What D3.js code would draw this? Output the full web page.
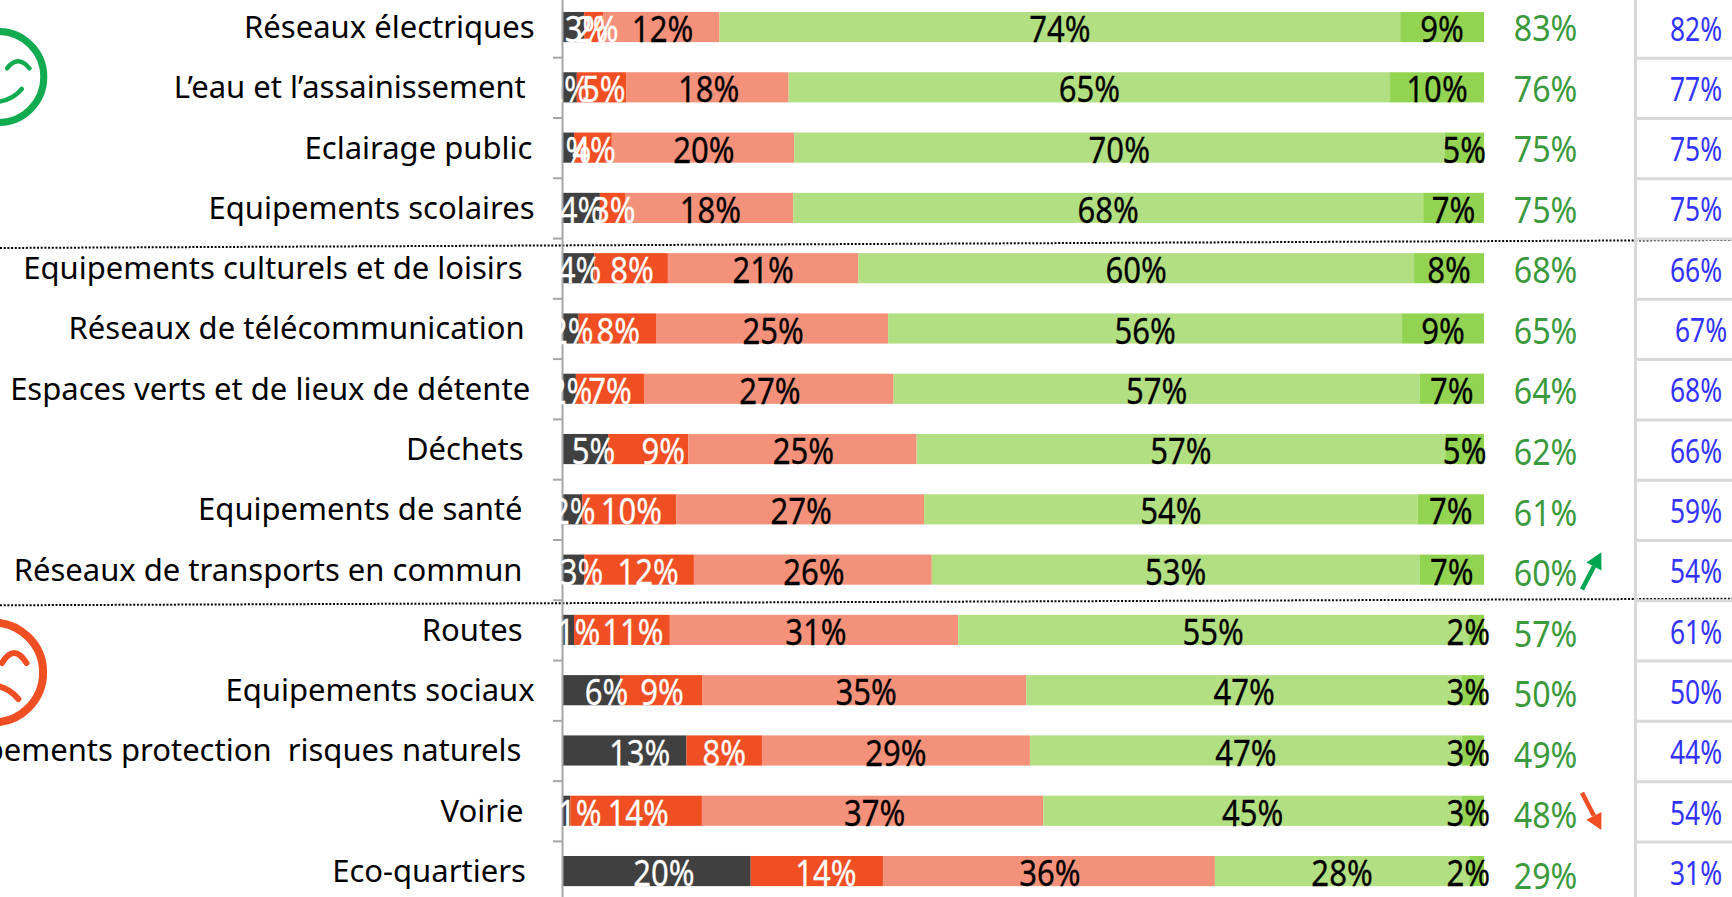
<!DOCTYPE html>
<html>

<head>
    <meta charset="utf-8">
    <title>Satisfaction équipements</title>
    <style>
        html, body {
            margin: 0;
            padding: 0;
            background: #fff;
            overflow: hidden;
        }

        svg {
            display: block;
            font-family: 'Noto Sans', 'Open Sans', sans-serif;
        }

        text {
            white-space: pre;
        }
    </style>
</head>

<body>
    <figure style="margin:0"></figure>

    <script src="https://d3js.org/d3.v7.min.js"></script>

    <script>
        ////////////////////////////////////
        ///////////// Data /////////////////
        ////////////////////////////////////

        const categories = [
            "Réseaux électriques",
            "L’eau et l’assainissement",
            "Eclairage public",
            "Equipements scolaires",
            "Equipements culturels et de loisirs",
            "Réseaux de télécommunication",
            "Espaces verts et de lieux de détente",
            "Déchets",
            "Equipements de santé",
            "Réseaux de transports en commun",
            "Routes",
            "Equipements sociaux",
            "Equipements protection  risques naturels",
            "Voirie",
            "Eco-quartiers"
        ]

        // segment widths (the printed labels are rounded differently)
        const nonConcerne = [2.3, 1.5, 1.2, 4.0, 3.4, 1.7, 1.4, 4.9, 2.1, 2.3, 1.2, 6.2, 13.4, 0.8, 20.3]
        const pasDuTout = [2.1, 5.4, 4.1, 2.8, 8.0, 8.4, 7.4, 8.7, 10.2, 11.9, 10.4, 8.9, 8.2, 14.3, 14.3]
        const plutotPas = [12.6, 17.6, 19.8, 18.2, 20.7, 25.2, 27.1, 24.8, 26.9, 25.8, 31.3, 35.2, 29.1, 37.1, 35.9]
        const plutot = [73.9, 65.3, 70.6, 68.4, 60.4, 55.8, 57.1, 57.4, 53.6, 52.9, 55.4, 47.3, 46.9, 45.5, 27.5]
        const tout = [9.1, 10.2, 4.3, 6.6, 7.6, 8.9, 7.0, 4.2, 7.2, 7.0, 1.7, 2.4, 2.4, 2.4, 1.6]

        // printed labels
        const labelNonConcerne = [3, 2, 1, 4, 4, 2, 2, 5, 2, 3, 1, 6, 13, 1, 20]
        const labelPasDuTout = [2, 5, 4, 3, 8, 8, 7, 9, 10, 12, 11, 9, 8, 14, 14]
        const labelPlutotPas = [12, 18, 20, 18, 21, 25, 27, 25, 27, 26, 31, 35, 29, 37, 36]
        const labelPlutot = [74, 65, 70, 68, 60, 56, 57, 57, 54, 53, 55, 47, 47, 45, 28]
        const labelTout = [9, 10, 5, 7, 8, 9, 7, 5, 7, 7, 2, 3, 3, 3, 2]

        const totalSatisfaits = [83, 76, 75, 75, 68, 65, 64, 62, 61, 60, 57, 50, 49, 48, 29]
        const totalPrecedent = [82, 77, 75, 75, 66, 67, 68, 66, 59, 54, 61, 50, 44, 54, 31]

        const seriesKeys = ["nonConcerne", "pasDuTout", "plutotPas", "plutot", "tout"]
        const seriesColors = ["#404040", "#F04E23", "#F4917A", "#B2DF82", "#93D352"]
        const seriesText = ["#fff", "#fff", "#000", "#000", "#000"]
        const seriesLabels = [labelNonConcerne, labelPasDuTout, labelPlutotPas, labelPlutot, labelTout]

        // the labels of the two first series do not sit at the middle of their segment
        const labelShift = [
            [13, -2, 1, 0, 1, 1, 1, 8, 1, 8, 10, 15, 15, 13, 7],
            [3, 2, 1, 1, 1, 1, 0, 15, 2, 9, 11, 1, 0, 2, 9],
            [1, 1, 1, 1, 0, 1, 1, 1, 1, 1, 2, 2, 0, 2, 1],
            [0, 0, 0, 0, 0, 0, 0, 0, 0, 0, 0, 0, 0, 0, 0],
            [0, 0, 0, 0, 0, 0, 0, 0, 0, 0, 0, 0, 0, 0, 0]
        ]

        // the category labels are not aligned on one edge in the original
        const categoryEnd = [534.6, 525.8, 532.4, 534.6, 522.5, 524.7, 530.2, 523.6, 522.5, 522.5, 522.5, 534.6, 521.4, 523.6, 525.8]

        const rows = categories.map((c, i) => ({
            category: c,
            nonConcerne: nonConcerne[i],
            pasDuTout: pasDuTout[i],
            plutotPas: plutotPas[i],
            plutot: plutot[i],
            tout: tout[i]
        }))

        ////////////////////////////////////
        ///////////// SVG Setup ////////////
        ////////////////////////////////////

        const width = 1732
        const height = 897

        const svg = d3.select('figure')
            .append('svg')
            .attr('width', width)
            .attr('height', height)

        ////////////////////////////////////
        /////////////// Scales /////////////
        ////////////////////////////////////

        const barLeft = 563
        const barRight = 1484

        const xScale = d3.scaleLinear()
            .domain([0, 1])
            .range([barLeft, barRight])

        const yScale = d3.scaleBand()
            .domain(categories)
            .range([-3.1, 901.2])
            .paddingInner(0.5)
            .paddingOuter(0.25)

        // row edges, for the tick marks and the grid on the right
        const edgeScale = d3.scaleLinear()
            .domain([0, 15])
            .range([-3.1, 901.2])

        // the two number columns drift a little against the bars
        const greenBaseline = d3.scaleLinear().domain([0, 14]).range([41, 889])
        const blueBaseline = d3.scaleLinear().domain([0, 14]).range([40.5, 885])

        const stacked = d3.stack()
            .keys(seriesKeys)
            .offset(d3.stackOffsetExpand)(rows)

        ////////////////////////////////////
        /////////////// Draw items /////////
        ////////////////////////////////////

        // separators between the three groups
        const separators = [[248, 240], [605.3, 598.7]]
        svg.selectAll('.separator')
            .data(separators)
            .enter()
            .append('line')
            .attr('class', 'separator')
            .attr('x1', 0)
            .attr('x2', width)
            .attr('y1', d => d[0])
            .attr('y2', d => d[1])
            .style('stroke', '#000')
            .style('stroke-width', 2)
            .style('stroke-dasharray', '2 1.7')

        // grid of the right column
        svg.append('line')
            .attr('x1', 1635.5)
            .attr('x2', 1635.5)
            .attr('y1', 0)
            .attr('y2', height)
            .style('stroke', '#d9d9d9')
            .style('stroke-width', 3)

        svg.selectAll('.rowline')
            .data(d3.range(1, 15))
            .enter()
            .append('line')
            .attr('class', 'rowline')
            .attr('x1', 1637)
            .attr('x2', width)
            .attr('y1', d => edgeScale(d) + 1)
            .attr('y2', d => edgeScale(d) + 1)
            .style('stroke', '#d9d9d9')
            .style('stroke-width', 3)

        // bars
        svg.selectAll('.serie')
            .data(stacked)
            .enter()
            .append('g')
            .attr('class', 'serie')
            .style('fill', (d, i) => seriesColors[i])
            .selectAll('rect')
            .data(d => d)
            .enter()
            .append('rect')
            .attr('x', d => xScale(d[0]))
            .attr('y', d => yScale(d.data.category))
            .attr('width', d => xScale(d[1]) - xScale(d[0]))
            .attr('height', yScale.bandwidth())

        // axis, ticks between the rows
        const axis = d3.axisLeft(edgeScale)
            .tickValues(d3.range(1, 15))
            .tickFormat('')
            .tickSize(9)
            .tickSizeOuter(0)

        const axisG = svg.append('g')
            .attr('transform', `translate(${barLeft - 1},0)`)
            .call(axis)
        axisG.selectAll('.domain, .tick line')
            .style('stroke', '#a6a6a6')
            .style('stroke-width', 2)

        // category labels
        svg.selectAll('.category')
            .data(categories)
            .enter()
            .append('text')
            .attr('class', 'category')
            .attr('x', (d, i) => categoryEnd[i])
            .attr('y', d => yScale(d) + yScale.bandwidth() / 2 + 11)
            .attr('text-anchor', 'end')
            .style('font-size', '31px')
            .style('fill', '#000')
            .text(d => d)

        // value labels, narrowed like in the original
        const narrow = 0.84
        stacked.forEach(function (serie, s) {
            svg.selectAll('.value' + s)
                .data(serie)
                .enter()
                .append('text')
                .attr('class', 'value' + s)
                .attr('text-anchor', 'middle')
                .style('font-size', '37px')
                .style('fill', seriesText[s])
                .style('stroke', seriesText[s])
                .style('stroke-width', 0.3)
                .text((d, i) => seriesLabels[s][i] + '%')
                .attr('transform', function (d, i) {
                    const half = this.getComputedTextLength() * narrow / 2
                    let cx = (xScale(d[0]) + xScale(d[1])) / 2 + labelShift[s][i]
                    // last series stays close to the end of the bar
                    if (s === 4) cx = Math.min(cx, barRight + 6 - half)
                    const base = yScale(d.data.category) + yScale.bandwidth()
                    return `translate(${cx},${base}) scale(${narrow},1)`
                })
        })

        // total column
        svg.selectAll('.total')
            .data(totalSatisfaits)
            .enter()
            .append('text')
            .attr('class', 'total')
            .attr('text-anchor', 'middle')
            .attr('transform', (d, i) => `translate(1545.5,${greenBaseline(i)}) scale(0.87,1)`)
            .style('font-size', '37px')
            .style('fill', '#3A9A3C')
            .text(d => d + '%')

        // previous wave column
        svg.selectAll('.previous')
            .data(totalPrecedent)
            .enter()
            .append('text')
            .attr('class', 'previous')
            .attr('text-anchor', 'middle')
            .attr('transform', (d, i) => `translate(${i === 5 ? 1701 : 1696},${blueBaseline(i)}) scale(0.8,1)`)
            .style('font-size', '33px')
            .style('fill', '#3333FF')
            .text(d => d + '%')

        ////////////////////////////////////
        /////////////// Arrows /////////////
        ////////////////////////////////////

        function arrow(x1, y1, x2, y2, color) {
            const a = Math.atan2(y2 - y1, x2 - x1)
            const len = 16
            const half = 8.5
            const bx = x2 - len * Math.cos(a)
            const by = y2 - len * Math.sin(a)
            svg.append('line')
                .attr('x1', x1).attr('y1', y1)
                .attr('x2', bx).attr('y2', by)
                .style('stroke', color)
                .style('stroke-width', 4.5)
            svg.append('path')
                .attr('d', d3.line()([
                    [x2, y2],
                    [bx - half * Math.sin(a), by + half * Math.cos(a)],
                    [bx + half * Math.sin(a), by - half * Math.cos(a)]
                ]) + 'Z')
                .style('fill', color)
        }

        arrow(1582, 589.5, 1601.3, 552.3, '#00A651')
        arrow(1582, 792.7, 1601.3, 830, '#F04E23')

        ////////////////////////////////////
        /////////////// Smileys ////////////
        ////////////////////////////////////

        function smiley(cx, cy, r, sw, color, eye, eyeW, mouth, mouthW) {
            const g = svg.append('g')
                .style('fill', 'none')
                .style('stroke', color)
                .style('stroke-linecap', 'round')
            g.append('circle')
                .attr('cx', cx)
                .attr('cy', cy)
                .attr('r', r)
                .style('stroke-width', sw)
            g.append('path').attr('d', eye).style('stroke-width', eyeW)
            g.append('path').attr('d', mouth).style('stroke-width', mouthW)
        }

        smiley(-1.7, 77, 45.5, 7, '#12AB4F',
            'M7,68.3 Q18,54 29.5,68.3', 4.5,
            'M21.7,89 Q12,101 -5,102', 4.5)

        smiley(-6.9, 672.5, 50, 8, '#F04E23',
            'M2,663 Q14,643 26.5,663', 6,
            'M18.3,699 Q9,688 -3,686', 6)
    </script>
</body>

</html>
